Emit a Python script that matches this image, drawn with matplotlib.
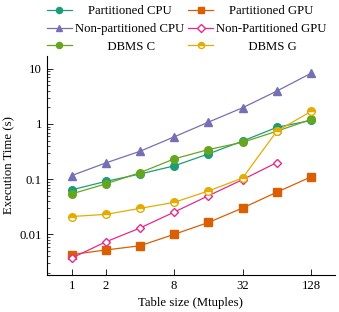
import matplotlib

matplotlib.use("Agg")
import matplotlib.pyplot as plt
from matplotlib.ticker import FixedLocator, NullFormatter, LogLocator
import numpy as np

# table sizes (Mtuples)
sizes = [1, 2, 4, 8, 16, 32, 64, 128]

part_cpu = [0.064, 0.091, 0.124, 0.174, 0.287, 0.49, 0.87, 1.16]
part_gpu = [0.0043, 0.0052, 0.0062, 0.010, 0.0164, 0.030, 0.058, 0.11]
nonpart_cpu = [0.116, 0.197, 0.32, 0.585, 1.08, 1.97, 3.95, 8.3]
nonpart_gpu = [0.0037, 0.0073, 0.013, 0.0253, 0.050, 0.098, 0.20]
dbms_c = [0.054, 0.082, 0.131, 0.233, 0.344, 0.466, 0.74, 1.21]
dbms_g = [0.021, 0.023, 0.0295, 0.038, 0.061, 0.105, 0.74, 1.69]

xticks = [1, 2, 8, 32, 128]

plt.rcParams.update(
    {
        "font.family": "serif",
        "font.serif": ["Liberation Serif", "DejaVu Serif"],
        "font.size": 9.2,
        "xtick.direction": "in",
        "ytick.direction": "in",
        "axes.spines.top": False,
        "axes.spines.right": False,
    }
)

fig = plt.figure(figsize=(3.39, 3.12), dpi=100)
ax = fig.add_axes([0.138, 0.119, 0.850, 0.702])

lw = 0.9
ms = 5.5
h1, = ax.plot(sizes, part_cpu, color="#1b9e77", marker="o", lw=lw, ms=ms)
h2, = ax.plot(sizes, part_gpu, color="#d95f02", marker="s", lw=lw, ms=ms)
h3, = ax.plot(sizes, nonpart_cpu, color="#7570b3", marker="^", lw=lw, ms=ms)
h4, = ax.plot(sizes[:len(nonpart_gpu)], nonpart_gpu, color="#e7298a", marker="D",
              lw=lw, ms=4.5, mfc="white")
h5, = ax.plot(sizes, dbms_c, color="#66a61e", marker="o", lw=lw, ms=ms)
h6, = ax.plot(sizes, dbms_g, color="#e6ab02", marker="o", lw=lw, ms=ms,
              fillstyle="top", markerfacecoloralt="white")

ax.set_xscale("log", base=2)
ax.set_yscale("log")
ax.set_xlim(2 ** -0.725, 2 ** 7.70)
ax.set_ylim(0.00184, 17.2)

ax.xaxis.set_major_locator(FixedLocator(xticks))
ax.set_xticklabels([str(t) for t in xticks])
ax.xaxis.set_minor_locator(FixedLocator([]))
ax.set_yticks([0.01, 0.1, 1, 10])
ax.set_yticklabels(["0.01", "0.1", "1", "10"])
ax.yaxis.set_minor_locator(LogLocator(base=10, subs=np.arange(2, 10)))
ax.yaxis.set_minor_formatter(NullFormatter())
ax.tick_params(which="major", length=4, width=0.6)
ax.tick_params(which="minor", length=2, width=0.5)
for s in ax.spines.values():
    s.set_linewidth(0.8)

ax.set_xlabel("Table size (Mtuples)")
ax.set_ylabel("Execution Time (s)", labelpad=3)

# legend fills column by column; labels padded to sit centered in the column
handles = [h1, h3, h5, h2, h4, h6]
labels = [
    "    Partitioned CPU",
    "Non-partitioned CPU",
    "          DBMS C",
    "    Partitioned GPU",
    "Non-Partitioned GPU",
    "          DBMS G",
]
fig.legend(
    handles,
    labels,
    ncol=2,
    loc="upper center",
    bbox_to_anchor=(0.55, 1.02),
    frameon=False,
    handlelength=2.0,
    handletextpad=0.2,
    columnspacing=0.3,
    labelspacing=0.45,
    markerscale=0.8,
)

fig.savefig("out.png", dpi=100)
